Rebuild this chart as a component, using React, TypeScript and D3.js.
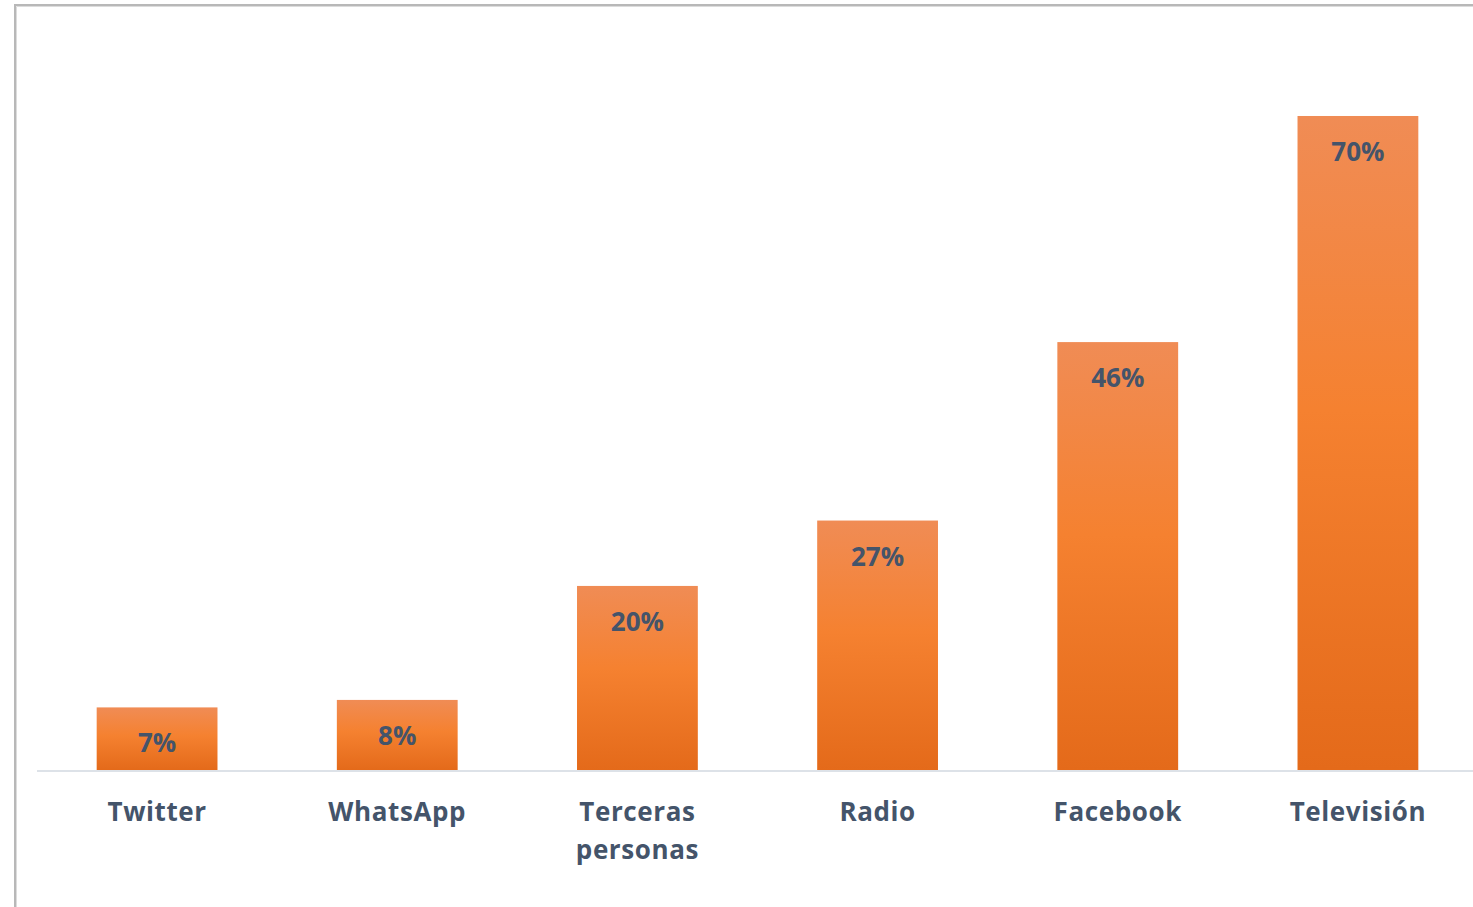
import React from "react";
import * as d3 from "d3";

const categories: string[][] = [
  ["Twitter"],
  ["WhatsApp"],
  ["Terceras", "personas"],
  ["Radio"],
  ["Facebook"],
  ["Televisión"],
];
const values: number[] = [6.7, 7.5, 19.7, 26.7, 45.8, 70.0];

const W = 1473;
const H = 907;
const baseY = 770;
const xLeft = 37;
const xRight = 1478;

export default function App() {
  const x = d3
    .scaleBand<number>()
    .domain(d3.range(values.length))
    .range([xLeft, xRight])
    .paddingInner(0.497)
    .paddingOuter(0.2485);
  const y = d3.scaleLinear().domain([0, 80]).range([baseY, baseY - 80 * 9.343]);
  const font = "'Open Sans', 'Segoe UI', sans-serif";
  const textColor = "#44546a";

  return (
    <svg
      width={W}
      height={H}
      style={{ position: "absolute", left: 0, top: 0, background: "#fff" }}
    >
      <defs>
        <linearGradient id="barGrad" x1="0" y1="0" x2="0" y2="1">
          <stop offset="0" stopColor="#f08c55" />
          <stop offset="0.45" stopColor="#f58130" />
          <stop offset="1" stopColor="#e46a1a" />
        </linearGradient>
      </defs>
      {/* chart frame */}
      <path d={`M15,${H} L15,5 L${W},5`} fill="none" stroke="#b8b8b8" strokeWidth={2} />
      <path d={`M16.5,${H} L16.5,6.5 L${W},6.5`} fill="none" stroke="#dcdcdc" strokeWidth={1} />

      {values.map((v, i) => {
        const bx = x(i)!;
        const by = y(v);
        return (
          <g key={i}>
            <rect
              x={bx}
              y={by}
              width={x.bandwidth()}
              height={baseY - by}
              fill="url(#barGrad)"
            />
            <text
              x={bx + x.bandwidth() / 2}
              y={by + 35}
              textAnchor="middle"
              dominantBaseline="central"
              fontFamily={font}
              fontWeight={700}
              fontSize={26}
              fill={textColor}
            >
              {`${Math.round(v)}%`}
            </text>
          </g>
        );
      })}

      <line x1={xLeft} x2={W} y1={baseY + 1} y2={baseY + 1} stroke="#dde2e8" strokeWidth={2} />

      {categories.map((lines, i) => (
        <text
          key={i}
          x={x(i)! + x.bandwidth() / 2}
          textAnchor="middle"
          fontFamily={font}
          fontWeight={700}
          fontSize={26}
          letterSpacing={0.6}
          fill={textColor}
        >
          {lines.map((l, j) => (
            <tspan key={j} x={x(i)! + x.bandwidth() / 2} y={811 + j * 38} dominantBaseline="central">
              {l}
            </tspan>
          ))}
        </text>
      ))}
    </svg>
  );
}
